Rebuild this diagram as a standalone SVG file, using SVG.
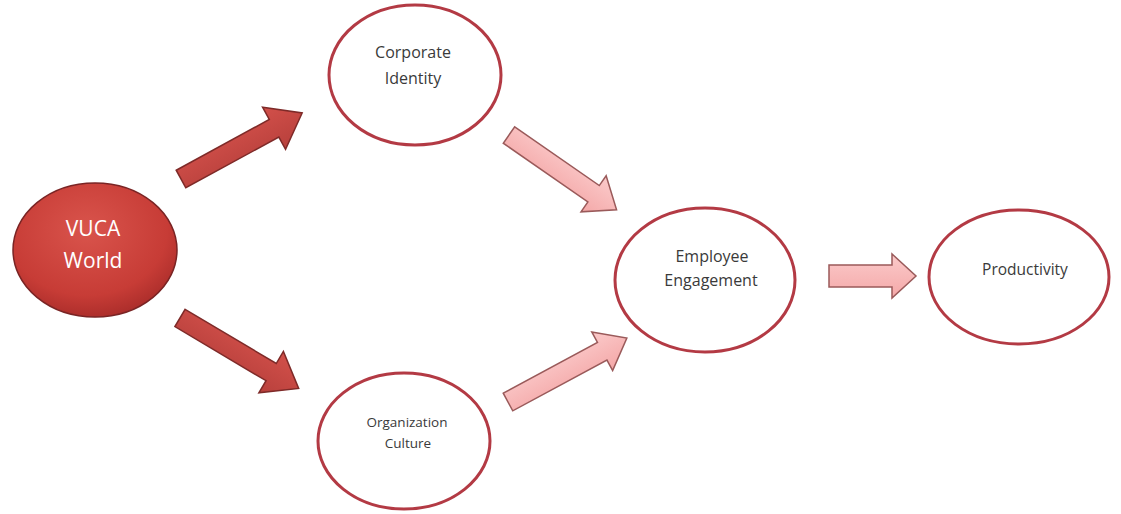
<svg xmlns="http://www.w3.org/2000/svg" width="1121" height="514" viewBox="0 0 1121 514">
<defs>
<radialGradient id="vuca" cx="0.45" cy="0.35" r="0.7">
<stop offset="0" stop-color="#d9544c"/>
<stop offset="0.7" stop-color="#c73c36"/>
<stop offset="1" stop-color="#a52a28"/>
</radialGradient>
<linearGradient id="dark" x1="0" y1="0" x2="0" y2="1">
<stop offset="0" stop-color="#d2504a"/>
<stop offset="1" stop-color="#b8403c"/>
</linearGradient>
<linearGradient id="pink" x1="0" y1="0" x2="0" y2="1">
<stop offset="0" stop-color="#fbcaca"/>
<stop offset="1" stop-color="#f4a8a8"/>
</linearGradient>
</defs>
<style>
.node{fill:#fff;stroke:#b33a44;stroke-width:3}
.lbl{font-family:"Open Sans","Liberation Sans",sans-serif;fill:#3a3a3a;text-anchor:middle}
.darr{fill:url(#dark);stroke:#7e2a28;stroke-width:1.5;stroke-linejoin:miter}
.parr{fill:url(#pink);stroke:#9a5a5a;stroke-width:1.5}
</style>
<rect width="1121" height="514" fill="#fff"/>
<g id="connectors">
<polygon class="darr" transform="translate(181,179) rotate(-28.6)" points="0,-10 106,-10 106,-24 138,0 106,24 106,10 0,10"/>
<polygon class="darr" transform="translate(180,318) rotate(30.7)" points="0,-10 106,-10 106,-24 138,0 106,24 106,10 0,10"/>
<polygon class="parr" transform="translate(509,135) rotate(34.8)" points="0,-10 103,-10 103,-22 131,0 103,22 103,10 0,10"/>
<polygon class="parr" transform="translate(508,402) rotate(-28.3)" points="0,-10 107,-10 107,-22 135,0 107,22 107,10 0,10"/>
<polygon class="parr" transform="translate(829,276)" points="0,-11 63,-11 63,-22 87,0 63,22 63,11 0,11"/>
</g>
<g id="vuca-world">
<ellipse cx="95" cy="250" rx="82" ry="67" fill="url(#vuca)" stroke="#7a2424" stroke-width="1.5"/>
<text x="93" y="236" font-family="'Open Sans','Liberation Sans',sans-serif" font-size="21" fill="#fff" text-anchor="middle">VUCA</text>
<text x="93" y="268" font-family="'Open Sans','Liberation Sans',sans-serif" font-size="21" fill="#fff" text-anchor="middle">World</text>
</g>
<g id="corporate-identity">
<ellipse class="node" cx="415" cy="75" rx="86" ry="70"/>
<text class="lbl" x="413" y="58" font-size="16">Corporate</text>
<text class="lbl" x="413" y="84" font-size="16">Identity</text>
</g>
<g id="organization-culture">
<ellipse class="node" cx="404" cy="441" rx="86" ry="68"/>
<text class="lbl" x="407" y="427" font-size="13.5">Organization</text>
<text class="lbl" x="408" y="448" font-size="13.5">Culture</text>
</g>
<g id="employee-engagement">
<ellipse class="node" cx="705" cy="280" rx="90" ry="72"/>
<text class="lbl" x="712" y="262" font-size="16">Employee</text>
<text class="lbl" x="711" y="286" font-size="16">Engagement</text>
</g>
<g id="productivity">
<ellipse class="node" cx="1019" cy="277" rx="90" ry="67"/>
<text class="lbl" x="1025" y="275" font-size="15.5">Productivity</text>
</g>
</svg>
